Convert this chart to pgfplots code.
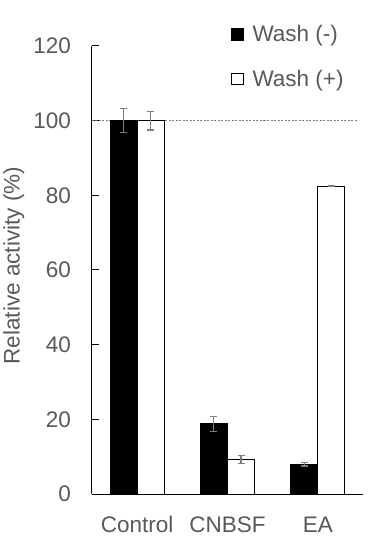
\documentclass[border=0pt]{standalone}
\usepackage{fontspec}
\setmainfont{Liberation Sans}
\usepackage{pgfplots}
\pgfplotsset{compat=1.18}
\definecolor{txt}{HTML}{595959}
\definecolor{eb}{HTML}{7F7F7F}
\newcommand{\bigf}{\fontsize{22.5bp}{27bp}\selectfont}
\begin{document}
\begin{tikzpicture}
\begin{axis}[
  scale only axis, width=271bp, height=448bp,
  xmin=-0.5, xmax=2.5, ymin=0, ymax=120,
  axis x line*=bottom, axis y line*=left,
  axis line style={black, line width=1bp},
  xtick={0,1,2}, xticklabels={Control,CNBSF,EA},
  x tick style={draw=none},
  ytick={0,20,...,120},
  tick align=inside,
  major tick length=7bp,
  y tick style={black, line width=1bp},
  /pgf/number format/assume math mode=true,
  tick label style={font=\bigf, text=txt},
  yticklabel style={anchor=east, inner sep=0pt, xshift=-21bp},
  xticklabel style={anchor=base, inner sep=0pt, yshift=-38bp},
  ylabel={Relative activity (\%)},
  ylabel style={font=\bigf, text=txt, at={(axis description cs:-0.2675,0.51)}, anchor=base},
  legend style={at={(axis description cs:0.513,1)}, anchor=north west, yshift=21bp,
    draw=none, fill=none, inner sep=0pt, row sep=26.8bp, column sep=9bp,
    font=\bigf, text=txt, nodes={inner sep=0pt}},
  legend cell align=left,
  legend image code/.code={\draw[#1, line width=0.8bp] (0bp,-6bp) rectangle (11.5bp,5.5bp);},
]
\addplot[forget plot, eb, dash pattern=on 2bp off 1.5bp, line width=0.8bp] coordinates {(-0.5,100) (2.43,100)};
\addplot[ybar, bar width=0.3, bar shift=0, fill=black, draw=black, line width=0.9bp,
  error bars/.cd, y dir=both, y explicit,
  error bar style={eb, line width=1.1bp},
  error mark options={eb, line width=1.1bp, mark size=3.5bp, rotate=90}]
  coordinates {(-0.15,100) +- (0,3.2) (0.85,18.8) +- (0,2.0) (1.85,8.0) +- (0,0.5)};
\addlegendentry{Wash (-)}
\addplot[ybar, bar width=0.3, bar shift=0, fill=white, draw=black, line width=0.9bp,
  error bars/.cd, y dir=both, y explicit,
  error bar style={eb, line width=1.1bp},
  error mark options={eb, line width=1.1bp, mark size=3.5bp, rotate=90}]
  coordinates {(0.15,100) +- (0,2.5) (1.15,9.3) +- (0,1.1) (2.15,82.5) +- (0,0.15)};
\addlegendentry{Wash (+)}
\end{axis}
\pgfresetboundingbox
\path (-92bp,-61bp) rectangle (283bp,494bp);
\end{tikzpicture}
\end{document}
